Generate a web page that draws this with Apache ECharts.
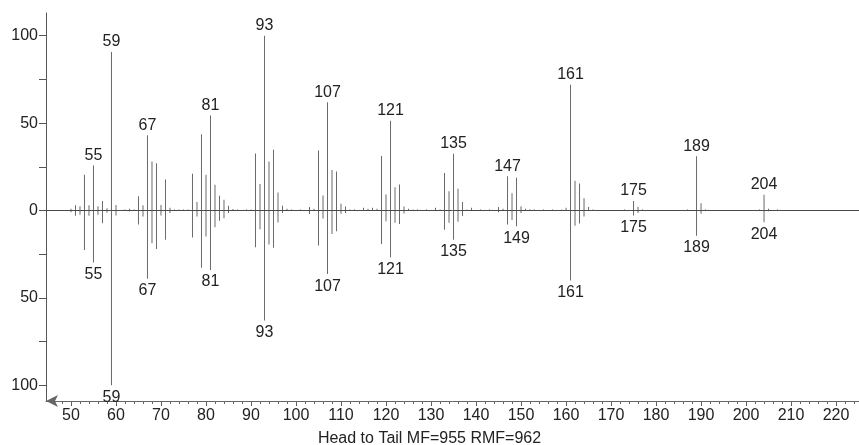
<!DOCTYPE html>
<html>
<head>
<meta charset="utf-8">
<script src="https://cdn.jsdelivr.net/npm/echarts@6/dist/echarts.min.js"></script>
<style>html,body{margin:0;padding:0;background:#fff}#c{width:859px;height:445px}</style>
</head>
<body>
<div id="c"></div>
<script>
// Head (library) spectrum: m/z and relative intensity
const headMz  = [50,51,52,53,54,55,56,57,58,59,60,62,63,64,65,66,67,68,69,70,71,72,73,74,75,76,77,78,79,80,81,82,83,84,85,86,87,89,90,91,92,93,94,95,96,97,98,99,101,103,104,105,106,107,108,109,110,111,112,113,115,116,117,118,119,120,121,122,123,124,125,126,127,129,131,132,133,134,135,136,137,138,139,141,143,145,146,147,148,149,150,151,152,153,155,157,159,160,161,162,163,164,165,166,173,175,176,177,187,189,190,191,203,204,205,207];
const headInt = [1,3,2.5,20.5,3,25.7,2.5,5.5,1.3,90.7,3.2,0.5,1,0.5,8.2,3,43,28,27,3.2,17.7,1.5,0.5,0.5,0.5,0.5,21,4.8,43.6,20.4,54.3,14.7,8.4,6.1,2.7,0.8,0.5,0.5,0.5,32.6,15.2,100,28,34.7,10.3,2.7,1,0.5,0.5,2,1,34.3,8.6,62,23.2,22.3,3.8,2.3,0.5,0.5,1.5,1,1.5,1,31.2,9.1,51.4,13.3,14.9,2.3,1,0.5,0.5,0.5,1.5,0.5,21.5,11,32.4,12.4,4.8,0.5,1.5,0.5,0.5,2,1,19.6,9.9,18.7,2.5,1,0.7,0.5,0.5,0.5,0.5,1.5,72,17,15.4,7,2,0.5,0.5,5.4,2.2,0.5,0.5,31,4.2,0.5,0.5,9,1,0.5];
const headLabels = [55,59,67,81,93,107,121,135,147,161,175,189,204];

// Tail (sample) spectrum: m/z and relative intensity (drawn downward)
const tailMz  = [50,51,52,53,54,55,56,57,58,59,60,63,65,66,67,68,69,70,71,72,77,78,79,80,81,82,83,84,85,91,92,93,94,95,96,97,103,105,106,107,108,109,110,111,119,120,121,122,123,124,133,134,135,136,137,145,147,148,149,150,161,162,163,164,175,176,189,190,204,205];
const tailInt = [1,3,2.5,22.6,3,29.7,2.5,7.3,1.3,100,2.9,0.5,8,3.4,39,18.7,22,2.9,16.8,1.5,15.5,3.4,32.8,14.9,34,9.6,5.9,4.4,1.5,21,10.7,63,19.4,21.3,6.9,1.5,2,20,4.6,36.4,13.4,11.9,1.9,1.5,19.2,6.1,26.8,7,7.7,1.7,11,7,16.8,6.5,3.2,1,8,5.5,9,1.5,40,8.7,7.5,3.5,2.9,1.5,14.5,1.9,6.7,0.5];
const tailLabels = [55,59,67,81,93,107,121,135,149,161,175,189,204];

// Axis ticks and labels
const xLabelValues = [50,60,70,80,90,100,110,120,130,140,150,160,170,180,190,200,210,220];
const xMinorTicks = [46,48,50,52,54,56,58,60,62,64,66,68,70,72,74,76,78,80,82,84,86,88,90,92,94,96,98,100,102,104,106,108,110,112,114,116,118,120,122,124,126,128,130,132,134,136,138,140,142,144,146,148,150,152,154,156,158,160,162,164,166,168,170,172,174,176,178,180,182,184,186,188,190,192,194,196,198,200,202,204,206,208,210,212,214,216,218,220,222,224];
const yLabelValues = [-100,-50,0,50,100];
const yTickValues = [-100,-75,-50,-25,0,25,50,75,100];
const titleText = 'Head to Tail MF=955 RMF=962';

const FONT = 'Liberation Sans, Arial, sans-serif';
const barColor = '#6a6a6a';

function build(mz, vals, labels, sign, pos) {
  return mz.map((m, i) => {
    const item = { value: [m, sign * vals[i]] };
    if (labels.indexOf(m) >= 0) {
      item.label = { show: true, position: pos, formatter: String(m) };
    }
    return item;
  });
}

const chart = echarts.init(document.getElementById('c'), null, { renderer: 'canvas' });
chart.setOption({
  animation: false,
  backgroundColor: '#fff',
  title: {
    text: titleText, left: 'center', top: 426,
    textStyle: { fontFamily: FONT, fontSize: 16, fontWeight: 'normal', color: '#222' }
  },
  grid: { left: 46, right: 0, top: 13, bottom: 44, containLabel: false },
  xAxis: [{
    type: 'value', min: 44.45, max: 225.1, position: 'bottom',
    axisLine: { onZero: false, show: true, lineStyle: { color: '#666', width: 1 },
      symbol: ['arrow', 'none'], symbolSize: [9, 12], symbolOffset: [0, 0] },
    axisTick: { show: true, inside: false, length: 5, customValues: xLabelValues, lineStyle: { color: '#555' } },
    axisLabel: { show: true, customValues: xLabelValues, margin: 7, fontFamily: FONT, fontSize: 16, color: '#222' },
    splitLine: { show: false }
  }, {
    type: 'value', min: 44.45, max: 225.1, position: 'bottom',
    axisLine: { show: false, onZero: false },
    axisTick: { show: true, inside: false, length: 3, customValues: xMinorTicks, lineStyle: { color: '#666' } },
    axisLabel: { show: false },
    splitLine: { show: false }
  }],
  yAxis: {
    type: 'value', min: -109, max: 113,
    axisLine: { show: true, onZero: false, lineStyle: { color: '#555' } },
    axisTick: { show: true, length: 7, customValues: yTickValues, lineStyle: { color: '#555' } },
    axisLabel: { customValues: yLabelValues, margin: 8, fontFamily: FONT, fontSize: 16, color: '#222',
      formatter: v => String(Math.abs(v)) },
    splitLine: { show: false }
  },
  series: [{
    type: 'bar', name: 'head', xAxisIndex: 0, barWidth: 1, barGap: '-100%',
    itemStyle: { color: barColor },
    label: { fontFamily: FONT, fontSize: 16, color: '#222', distance: 2 },
    data: build(headMz, headInt, headLabels, 1, 'top'),
    markLine: {
      silent: true, symbol: ['none', 'none'], label: { show: false },
      lineStyle: { color: '#4a4a4a', type: 'solid', width: 1 },
      data: [{ yAxis: 0 }]
    }
  }, {
    type: 'bar', name: 'tail', xAxisIndex: 0, barWidth: 1, barGap: '-100%',
    itemStyle: { color: barColor },
    label: { fontFamily: FONT, fontSize: 16, color: '#222', distance: 4 },
    data: build(tailMz, tailInt, tailLabels, -1, 'bottom')
  }]
});
</script>
</body>
</html>
